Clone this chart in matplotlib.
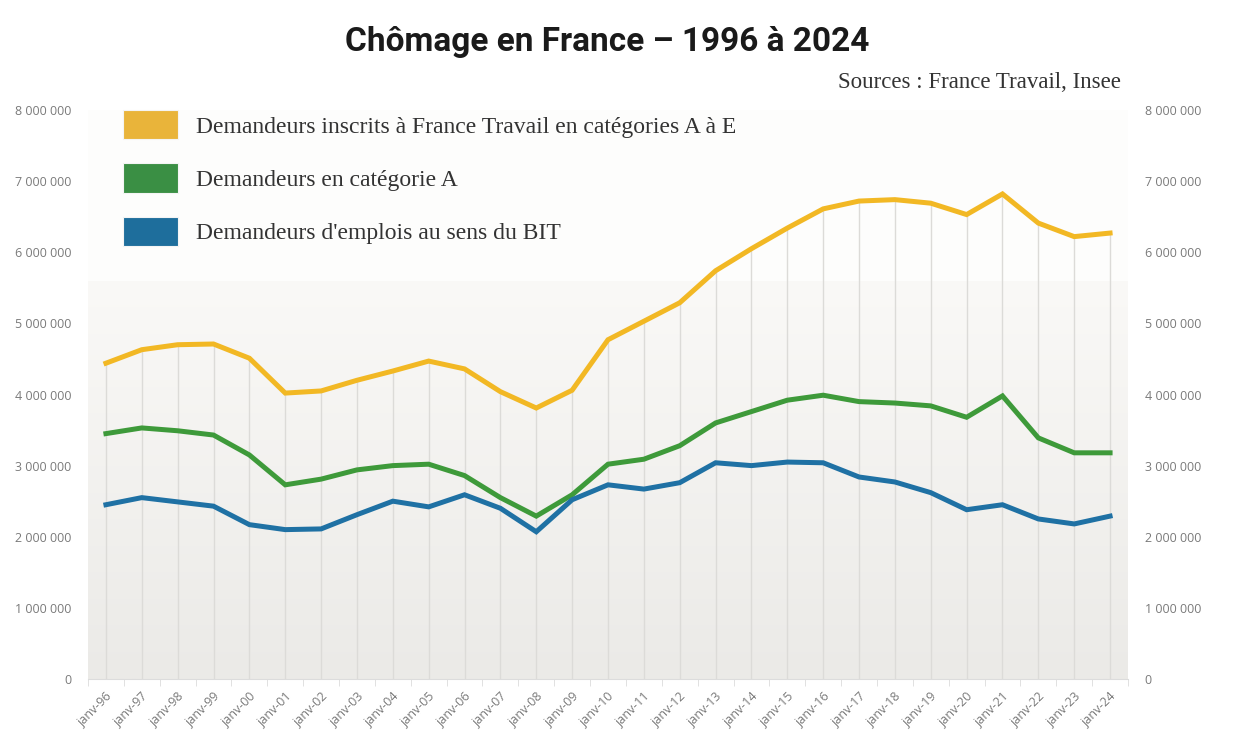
import matplotlib
matplotlib.use("Agg")
import matplotlib.pyplot as plt
from matplotlib.patches import Patch
import numpy as np

annees = [f"janv-{a % 100:02d}" for a in range(1996, 2025)]

# Demandeurs inscrits, catégories A à E
cat_ae = [4440000, 4630000, 4700000, 4710000, 4510000, 4020000, 4050000, 4200000,
          4330000, 4470000, 4360000, 4040000, 3810000, 4060000, 4770000, 5030000,
          5290000, 5740000, 6050000, 6340000, 6610000, 6720000, 6740000, 6690000,
          6530000, 6820000, 6410000, 6220000, 6270000]
# Demandeurs en catégorie A
cat_a = [3450000, 3530000, 3490000, 3430000, 3150000, 2730000, 2810000, 2940000,
         3000000, 3020000, 2860000, 2550000, 2290000, 2590000, 3020000, 3090000,
         3280000, 3600000, 3760000, 3920000, 3990000, 3900000, 3880000, 3840000,
         3680000, 3980000, 3390000, 3180000, 3180000]
# Chômeurs au sens du BIT
bit = [2450000, 2550000, 2490000, 2430000, 2170000, 2100000, 2110000, 2310000,
       2500000, 2420000, 2590000, 2400000, 2070000, 2520000, 2730000, 2670000,
       2760000, 3040000, 3000000, 3050000, 3040000, 2840000, 2770000, 2620000,
       2380000, 2450000, 2250000, 2180000, 2290000]

noms = ["Demandeurs inscrits à France Travail en catégories A à E",
        "Demandeurs en catégorie A",
        "Demandeurs d'emplois au sens du BIT"]
couleurs = ["#f2b824", "#3e9a3a", "#1f71a4"]
couleurs_leg = ["#e9b43a", "#3a8f44", "#1e6e9c"]

def fmt(v, pos=None):
    return f"{int(round(v)):,}".replace(",", " ")

fig = plt.figure(figsize=(12.5, 7.5), dpi=100)
ax = fig.add_axes([0.0704, 0.0947, 0.832, 0.7586])
x = np.arange(len(annees))
ax.set_xlim(-0.5, len(annees) - 0.5)
ax.set_ylim(0, 8000000)

# fond dégradé
grad = np.linspace(0, 1, 256).reshape(-1, 1)
cmap = matplotlib.colors.LinearSegmentedColormap.from_list("fond", ["#ebeae7", "#faf9f7"])
ax.imshow(grad, cmap=cmap, aspect="auto", origin="lower",
          extent=(-0.5, len(annees) - 0.5, 0, 5600000), zorder=0)
ax.axhspan(5600000, 8000000, color="#fdfdfc", zorder=0, lw=0)

# lignes verticales jusqu'à la courbe du haut
ax.vlines(x, 0, cat_ae, color="#dcdbd8", lw=1, zorder=1)

for serie, c in zip([cat_ae, cat_a, bit], couleurs):
    ax.plot(x, serie, color=c, lw=3.6, solid_joinstyle="miter", zorder=3)

for s in ["top", "right", "left"]:
    ax.spines[s].set_visible(False)
ax.spines["bottom"].set_color("#dcdcdc")
ax.set_xticks(x)
ax.set_xticklabels(annees, rotation=45, ha="right", rotation_mode="anchor",
                   fontsize=9, color="#7a7a7a", family="Open Sans")
ax.tick_params(axis="x", length=0, pad=8)
ax.set_xticks(np.arange(-0.5, len(annees), 1), minor=True)
ax.tick_params(axis="x", which="minor", length=5, color="#dcdcdc")
ax.set_yticks(np.arange(0, 8000001, 1000000))
ax.yaxis.set_major_formatter(matplotlib.ticker.FuncFormatter(fmt))
ax.tick_params(axis="y", length=0, pad=12, labelsize=9, labelcolor="#7a7a7a")
for t in ax.get_yticklabels():
    t.set_family("Open Sans")

ax2 = ax.twinx()
ax2.set_ylim(27900, 7958000)
ax2.set_yticks(np.arange(0, 8000001, 1000000))
ax2.yaxis.set_major_formatter(matplotlib.ticker.FuncFormatter(fmt))
ax2.tick_params(axis="y", length=0, pad=12, labelsize=9, labelcolor="#7a7a7a")
for t in ax2.get_yticklabels():
    t.set_family("Open Sans")
for s in ax2.spines.values():
    s.set_visible(False)

poignees = [Patch(facecolor=c, edgecolor="#f4f4f4", lw=0.8) for c in couleurs_leg]
ax.legend(poignees, noms, loc="upper left", bbox_to_anchor=(0.0984, 0.853),
          bbox_transform=fig.transFigure, frameon=False, borderpad=0, borderaxespad=0,
          handlelength=2.33, handleheight=1.52, handletextpad=0.75, labelspacing=1.02,
          prop={"family": "Liberation Serif", "size": 17}, labelcolor="#333333")

fig.text(0.486, 0.944, "Chômage en France – 1996 à 2024", ha="center", va="center",
         fontsize=24, fontweight="bold", family="Roboto", color="#1a1a1a")
fig.text(0.897, 0.89, "Sources : France Travail, Insee", ha="right", va="center",
         fontsize=16.5, family="Liberation Serif", color="#333333")

fig.savefig("out.png", dpi=100)
